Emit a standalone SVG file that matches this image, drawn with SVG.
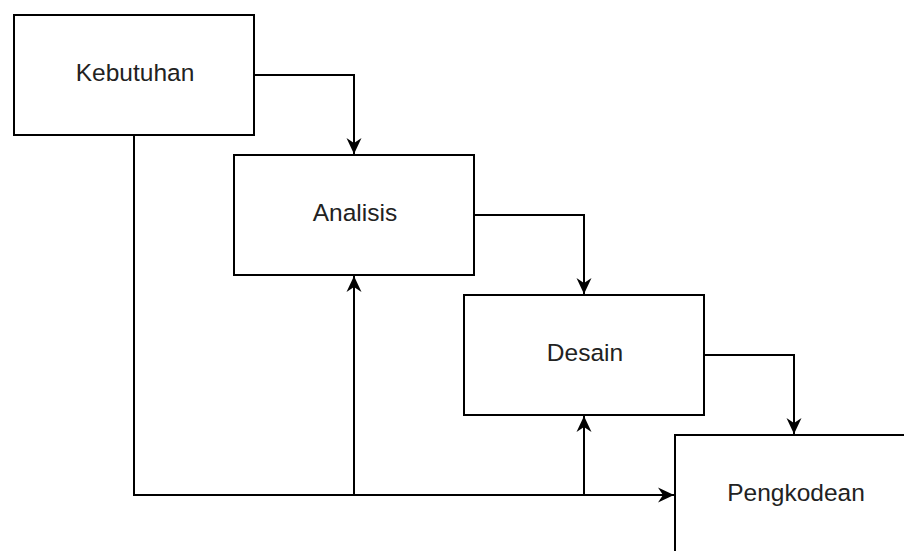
<svg xmlns="http://www.w3.org/2000/svg" width="904" height="551" viewBox="0 0 904 551">
  <style>
    .box { fill: #ffffff; stroke: #000000; stroke-width: 2; }
    .lbl { font-family: "Liberation Sans", Arial, sans-serif; font-size: 24.5px; fill: #222222; text-anchor: middle; }
    .edge { fill: none; stroke: #000000; stroke-width: 2; }
  </style>
  <defs>
    <marker id="arr" viewBox="-17 -8 18 16" refX="0" refY="0" markerWidth="18" markerHeight="16" markerUnits="userSpaceOnUse" orient="auto">
      <path d="M0,0 L-16,-7.5 L-11,0 L-16,7.5 Z" fill="#000000"/>
    </marker>
  </defs>
  <rect width="904" height="551" fill="#ffffff"/>
  <g id="connectors">
    <path class="edge" d="M254,75 H354 V154" marker-end="url(#arr)"/>
    <path class="edge" d="M474,215 H584 V294" marker-end="url(#arr)"/>
    <path class="edge" d="M704,355 H794 V434" marker-end="url(#arr)"/>
    <path class="edge" d="M134,135 V495 H674" marker-end="url(#arr)"/>
    <path class="edge" d="M354,495 V276" marker-end="url(#arr)"/>
    <path class="edge" d="M584,495 V416" marker-end="url(#arr)"/>
  </g>
  <g id="kebutuhan">
    <rect class="box" x="14" y="15" width="240" height="120"/>
    <text class="lbl" x="135" y="81">Kebutuhan</text>
  </g>
  <g id="analisis">
    <rect class="box" x="234" y="155" width="240" height="120"/>
    <text class="lbl" x="355" y="221">Analisis</text>
  </g>
  <g id="desain">
    <rect class="box" x="464" y="295" width="240" height="120"/>
    <text class="lbl" x="585" y="361">Desain</text>
  </g>
  <g id="pengkodean">
    <rect class="box" x="675" y="435" width="240" height="120"/>
    <text class="lbl" x="796" y="501">Pengkodean</text>
  </g>
</svg>
